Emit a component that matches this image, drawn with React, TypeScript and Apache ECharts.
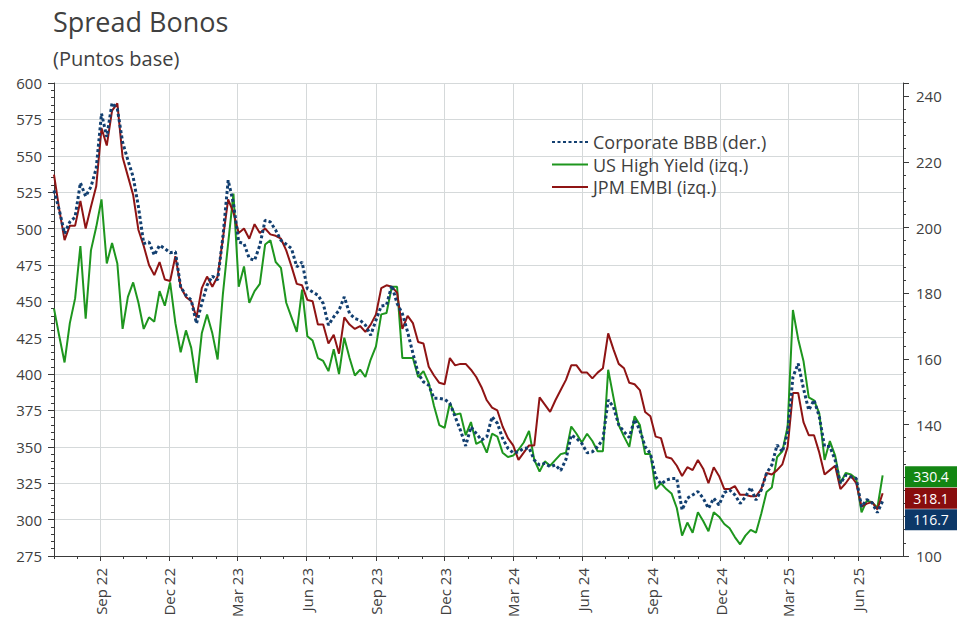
import React, { useEffect, useRef } from "react";
import * as echarts from "echarts";

// ---------- DATA ----------
const TITLE = "Spread Bonos";
const SUBTITLE = "(Puntos base)";
const SERIES_NAMES = ["Corporate BBB (der.)", "US High Yield (izq.)", "JPM EMBI (izq.)"];
const MONTHS = ["Jan", "Feb", "Mar", "Apr", "May", "Jun", "Jul", "Aug", "Sep", "Oct", "Nov", "Dec"];
const QUARTER_MONTHS = ["03", "06", "09", "12"];
// right-axis tick label that sits behind the last-value boxes in the reference
const RIGHT_HIDDEN_LABELS = [120];

// weekly observations starting on the first date below
const FIRST_OBS = [2022, 6, 1]; // 1 Jul 2022 (UTC, month is 0-based)
const AXIS_START = [2022, 6, 1];
const AXIS_END = [2025, 6, 31];

// US High Yield (left axis)
const HIGH_YIELD = [
  445, 426, 408, 435, 452, 488, 438, 485, 501, 520, 476, 490, 476, 431, 453, 463, 449, 431, 439, 436,
  457, 447, 463, 435, 415, 430, 418, 394, 428, 441, 428, 410, 455, 490, 524, 460, 474, 449, 457, 462,
  489, 492, 477, 473, 449, 439, 429, 458, 426, 423, 411, 409, 402, 417, 400, 425, 411, 399, 403, 398,
  410, 419, 441, 442, 460, 460, 411, 411, 411, 398, 402, 394, 378, 365, 363, 380, 372, 373, 358, 367,
  352, 354, 346, 359, 357, 346, 343, 344, 348, 353, 361, 341, 333, 340, 337, 341, 345, 346, 364, 359,
  353, 359, 354, 347, 347, 403, 384, 365, 357, 350, 371, 365, 345, 345, 321, 325, 321, 318, 308, 289,
  298, 291, 305, 299, 292, 305, 302, 297, 294, 288, 283, 289, 293, 291, 304, 319, 322, 343, 347, 364,
  444, 424, 409, 384, 382, 373, 341, 354, 344, 325, 332, 331, 328, 305, 313, 312, 308, 330.4,
];

// JPM EMBI (left axis)
const EMBI = [
  537, 513, 492, 502, 502, 519, 500, 515, 529, 569, 557, 581, 586, 549, 536, 523, 499, 488, 475, 468,
  477, 465, 464, 481, 460, 453, 450, 439, 459, 467, 460, 467, 493, 520, 511, 497, 500, 493, 503, 497,
  500, 496, 495, 493, 485, 474, 462, 461, 451, 450, 434, 434, 421, 427, 414, 439, 434, 431, 433, 429,
  434, 441, 459, 461, 460, 456, 431, 440, 435, 422, 421, 405, 399, 394, 393, 411, 406, 407, 407, 403,
  398, 391, 382, 377, 375, 364, 356, 351, 341, 346, 351, 351, 384, 379, 374, 382, 389, 396, 406, 406,
  401, 401, 397, 401, 404, 428, 417, 407, 404, 394, 393, 389, 374, 371, 357, 356, 343, 342, 337, 330,
  336, 334, 341, 335, 325, 336, 330, 321, 321, 323, 317, 317, 316, 316, 321, 332, 331, 334, 338, 350,
  387, 387, 367, 358, 358, 346, 331, 334, 337, 321, 325, 330, 325, 309, 311, 312, 307, 318.1,
];

// Corporate BBB (right axis)
const CORP_BBB = [
  211.3, 205.3, 198.2, 201.7, 203.2, 213.6, 209.5, 212.4, 218.0, 234.7, 227.6, 237.9, 236.2, 226.0, 220.5,
  215.4, 206.3, 195.1, 195.6, 191.6, 194.6, 193.6, 192.3, 192.6, 181.9, 179.4, 177.9, 170.8, 176.9, 182.4,
  185.2, 184.0, 197.1, 214.4, 207.3, 195.6, 195.1, 190.6, 190.0, 194.6, 202.2, 201.7, 199.2, 196.1, 194.9,
  193.6, 188.0, 189.5, 181.4, 180.4, 179.4, 176.9, 170.3, 172.8, 174.8, 178.9, 173.8, 172.3, 171.8, 170.3,
  167.2, 171.8, 176.1, 176.4, 182.4, 176.9, 173.8, 168.2, 161.7, 155.6, 153.0, 152.0, 148.0, 148.0, 147.7,
  146.5, 142.4, 138.3, 133.5, 139.3, 137.3, 135.3, 136.3, 142.4, 140.4, 135.8, 132.8, 131.4, 131.7, 132.8,
  132.9, 129.2, 127.7, 128.2, 127.2, 127.7, 126.0, 129.4, 136.8, 135.8, 134.3, 131.4, 131.7, 133.3, 135.5,
  147.5, 145.4, 139.9, 137.8, 136.1, 141.6, 138.3, 133.3, 131.2, 124.1, 121.9, 123.1, 123.6, 123.6, 114.0,
  117.6, 118.6, 119.6, 117.6, 114.5, 117.6, 115.5, 119.3, 120.1, 118.6, 116.0, 118.0, 120.9, 117.0, 120.1,
  125.2, 127.7, 133.8, 131.7, 137.5, 154.5, 158.6, 151.0, 144.4, 147.5, 142.4, 133.3, 133.3, 129.2, 122.1,
  124.6, 124.1, 123.6, 115.0, 117.2, 116.2, 113.2, 116.7,
];

const LEFT_MIN = 275;
const LEFT_MAX = 600;
const LEFT_STEP = 25;
const RIGHT_MIN = 100;
const RIGHT_MAX = 244;
const RIGHT_STEP = 20;

// ---------- STYLE ----------
const GREEN = "#1e961e";
const GREEN_BOX = "#138613";
const RED = "#8f1414";
const RED_BOX = "#880d0d";
const BLUE = "#123f70";
const BLUE_BOX = "#0d3868";
const TEXT = "#404040";
const GRID = "#d5d9da";
const AXIS = "#3a3a3a";
const FONT = "'Open Sans', 'Noto Sans', sans-serif";

const DAY = 86400000;

function utc(parts: number[]) {
  return Date.UTC(parts[0], parts[1], parts[2]);
}

function buildDays(): string[] {
  const out: string[] = [];
  const end = utc(AXIS_END);
  for (let t = utc(AXIS_START); t <= end; t += DAY) {
    out.push(new Date(t).toISOString().slice(0, 10));
  }
  return out;
}

function isQuarterStart(v: string) {
  return v.slice(8, 10) === "01" && QUARTER_MONTHS.includes(v.slice(5, 7));
}
function isMonthStart(v: string) {
  return v.slice(8, 10) === "01";
}
function quarterLabel(v: string) {
  const m = parseInt(v.slice(5, 7), 10);
  return MONTHS[m - 1] + " " + v.slice(2, 4);
}

function toPairs(values: number[]) {
  const t0 = utc(FIRST_OBS);
  return values.map((v, i) => [t0 + i * 7 * DAY, v]);
}

function endMark(values: number[], box: string, dy: number) {
  const last = values[values.length - 1];
  return {
    symbol: "rect",
    symbolSize: [52, 21],
    symbolOffset: [28, dy],
    silent: true,
    itemStyle: { color: box },
    label: {
      show: true,
      position: "inside",
      color: "#ffffff",
      fontSize: 14,
      lineHeight: 14,
      fontFamily: FONT,
      formatter: () => last.toFixed(1),
    },
    data: [{ coord: [utc(AXIS_END), last], value: last }],
  };
}

export default function App() {
  const ref = useRef<HTMLDivElement>(null);

  useEffect(() => {
    if (!ref.current) return;
    const chart = echarts.init(ref.current, undefined, { renderer: "svg" });
    const days = buildDays();
    const gridBox = { left: 54, right: 69, top: 83, bottom: 64 };

    chart.setOption({
      animation: false,
      backgroundColor: "#ffffff",
      textStyle: { fontFamily: FONT },
      title: [
        {
          text: TITLE,
          left: 53,
          top: 8,
          padding: 0,
          textStyle: { fontSize: 27, fontWeight: "normal", color: TEXT, fontFamily: FONT },
        },
        {
          text: SUBTITLE,
          left: 53,
          top: 48,
          padding: 0,
          textStyle: { fontSize: 20, fontWeight: "normal", color: TEXT, fontFamily: FONT },
        },
      ],
      legend: {
        orient: "vertical",
        left: 551,
        top: 133,
        padding: 0,
        itemWidth: 36,
        itemHeight: 14,
        itemGap: 4.5,
        data: SERIES_NAMES,
        itemStyle: { opacity: 0 },
        textStyle: { fontSize: 18, lineHeight: 18, color: TEXT, fontFamily: FONT },
      },
      grid: [
        { ...gridBox, containLabel: false },
        { ...gridBox, containLabel: false },
      ],
      xAxis: [
        {
          type: "category",
          gridIndex: 0,
          position: "bottom",
          data: days,
          boundaryGap: false,
          axisLine: { show: true, lineStyle: { color: AXIS, width: 1 } },
          axisTick: {
            show: true,
            length: 5,
            interval: (_i: number, v: string) => isQuarterStart(v),
            lineStyle: { color: AXIS },
          },
          axisLabel: {
            show: true,
            rotate: 90,
            margin: 12,
            fontSize: 15,
            color: TEXT,
            interval: (_i: number, v: string) => isQuarterStart(v),
            formatter: (v: string) => quarterLabel(v),
          },
          splitLine: {
            show: true,
            interval: (_i: number, v: string) => isQuarterStart(v),
            lineStyle: { color: GRID, width: 1 },
          },
        },
        {
          type: "time",
          gridIndex: 0,
          position: "top",
          min: utc(AXIS_START),
          max: utc(AXIS_END),
          show: false,
        },
        {
          type: "category",
          gridIndex: 1,
          position: "bottom",
          data: days,
          boundaryGap: false,
          axisLine: { show: false },
          axisTick: {
            show: true,
            length: 3,
            interval: (_i: number, v: string) => isMonthStart(v),
            lineStyle: { color: AXIS },
          },
          axisLabel: { show: false },
          splitLine: { show: false },
        },
      ],
      yAxis: [
        {
          type: "value",
          gridIndex: 0,
          position: "left",
          min: LEFT_MIN,
          max: LEFT_MAX,
          interval: LEFT_STEP,
          axisLine: { show: true, lineStyle: { color: AXIS, width: 1 } },
          axisTick: { show: true, length: 6, lineStyle: { color: AXIS } },
          minorTick: { show: true, splitNumber: 5, length: 3, lineStyle: { color: AXIS } },
          axisLabel: { fontSize: 15, color: TEXT, margin: 12 },
          splitLine: { show: true, lineStyle: { color: GRID, width: 1 } },
        },
        {
          type: "value",
          gridIndex: 0,
          position: "right",
          min: RIGHT_MIN,
          max: RIGHT_MAX,
          interval: RIGHT_STEP,
          axisLine: { show: true, lineStyle: { color: AXIS, width: 1 } },
          axisTick: { show: true, length: 6, lineStyle: { color: AXIS } },
          minorTick: { show: true, splitNumber: 5, length: 3, lineStyle: { color: AXIS } },
          axisLabel: {
            fontSize: 15,
            color: TEXT,
            margin: 13,
            showMaxLabel: false,
            formatter: (v: number) => (RIGHT_HIDDEN_LABELS.includes(v) ? "" : String(v)),
          },
          splitLine: { show: false },
        },
        {
          type: "value",
          gridIndex: 1,
          show: false,
          min: 0,
          max: 1,
        },
      ],
      series: [
        {
          name: SERIES_NAMES[1],
          type: "line",
          xAxisIndex: 1,
          yAxisIndex: 0,
          data: toPairs(HIGH_YIELD),
          symbol: "none",
          clip: false,
          lineStyle: { color: GREEN, width: 2 },
          itemStyle: { color: GREEN },
          z: 2,
          markPoint: endMark(HIGH_YIELD, GREEN_BOX, 1.5),
        },
        {
          name: SERIES_NAMES[2],
          type: "line",
          xAxisIndex: 1,
          yAxisIndex: 0,
          data: toPairs(EMBI),
          symbol: "none",
          clip: false,
          lineStyle: { color: RED, width: 2 },
          itemStyle: { color: RED },
          z: 3,
          markPoint: endMark(EMBI, RED_BOX, 5),
        },
        {
          name: SERIES_NAMES[0],
          type: "line",
          xAxisIndex: 1,
          yAxisIndex: 1,
          data: toPairs(CORP_BBB),
          symbol: "none",
          clip: false,
          lineStyle: { color: BLUE, width: 3, type: [3, 2.5] },
          itemStyle: { color: BLUE },
          z: 4,
          markPoint: endMark(CORP_BBB, BLUE_BOX, 18.5),
        },
      ],
    });

    return () => {
      chart.dispose();
    };
  }, []);

  return (
    <div
      ref={ref}
      style={{ position: "absolute", left: 0, top: 0, width: 972, height: 620, background: "#fff" }}
    />
  );
}
